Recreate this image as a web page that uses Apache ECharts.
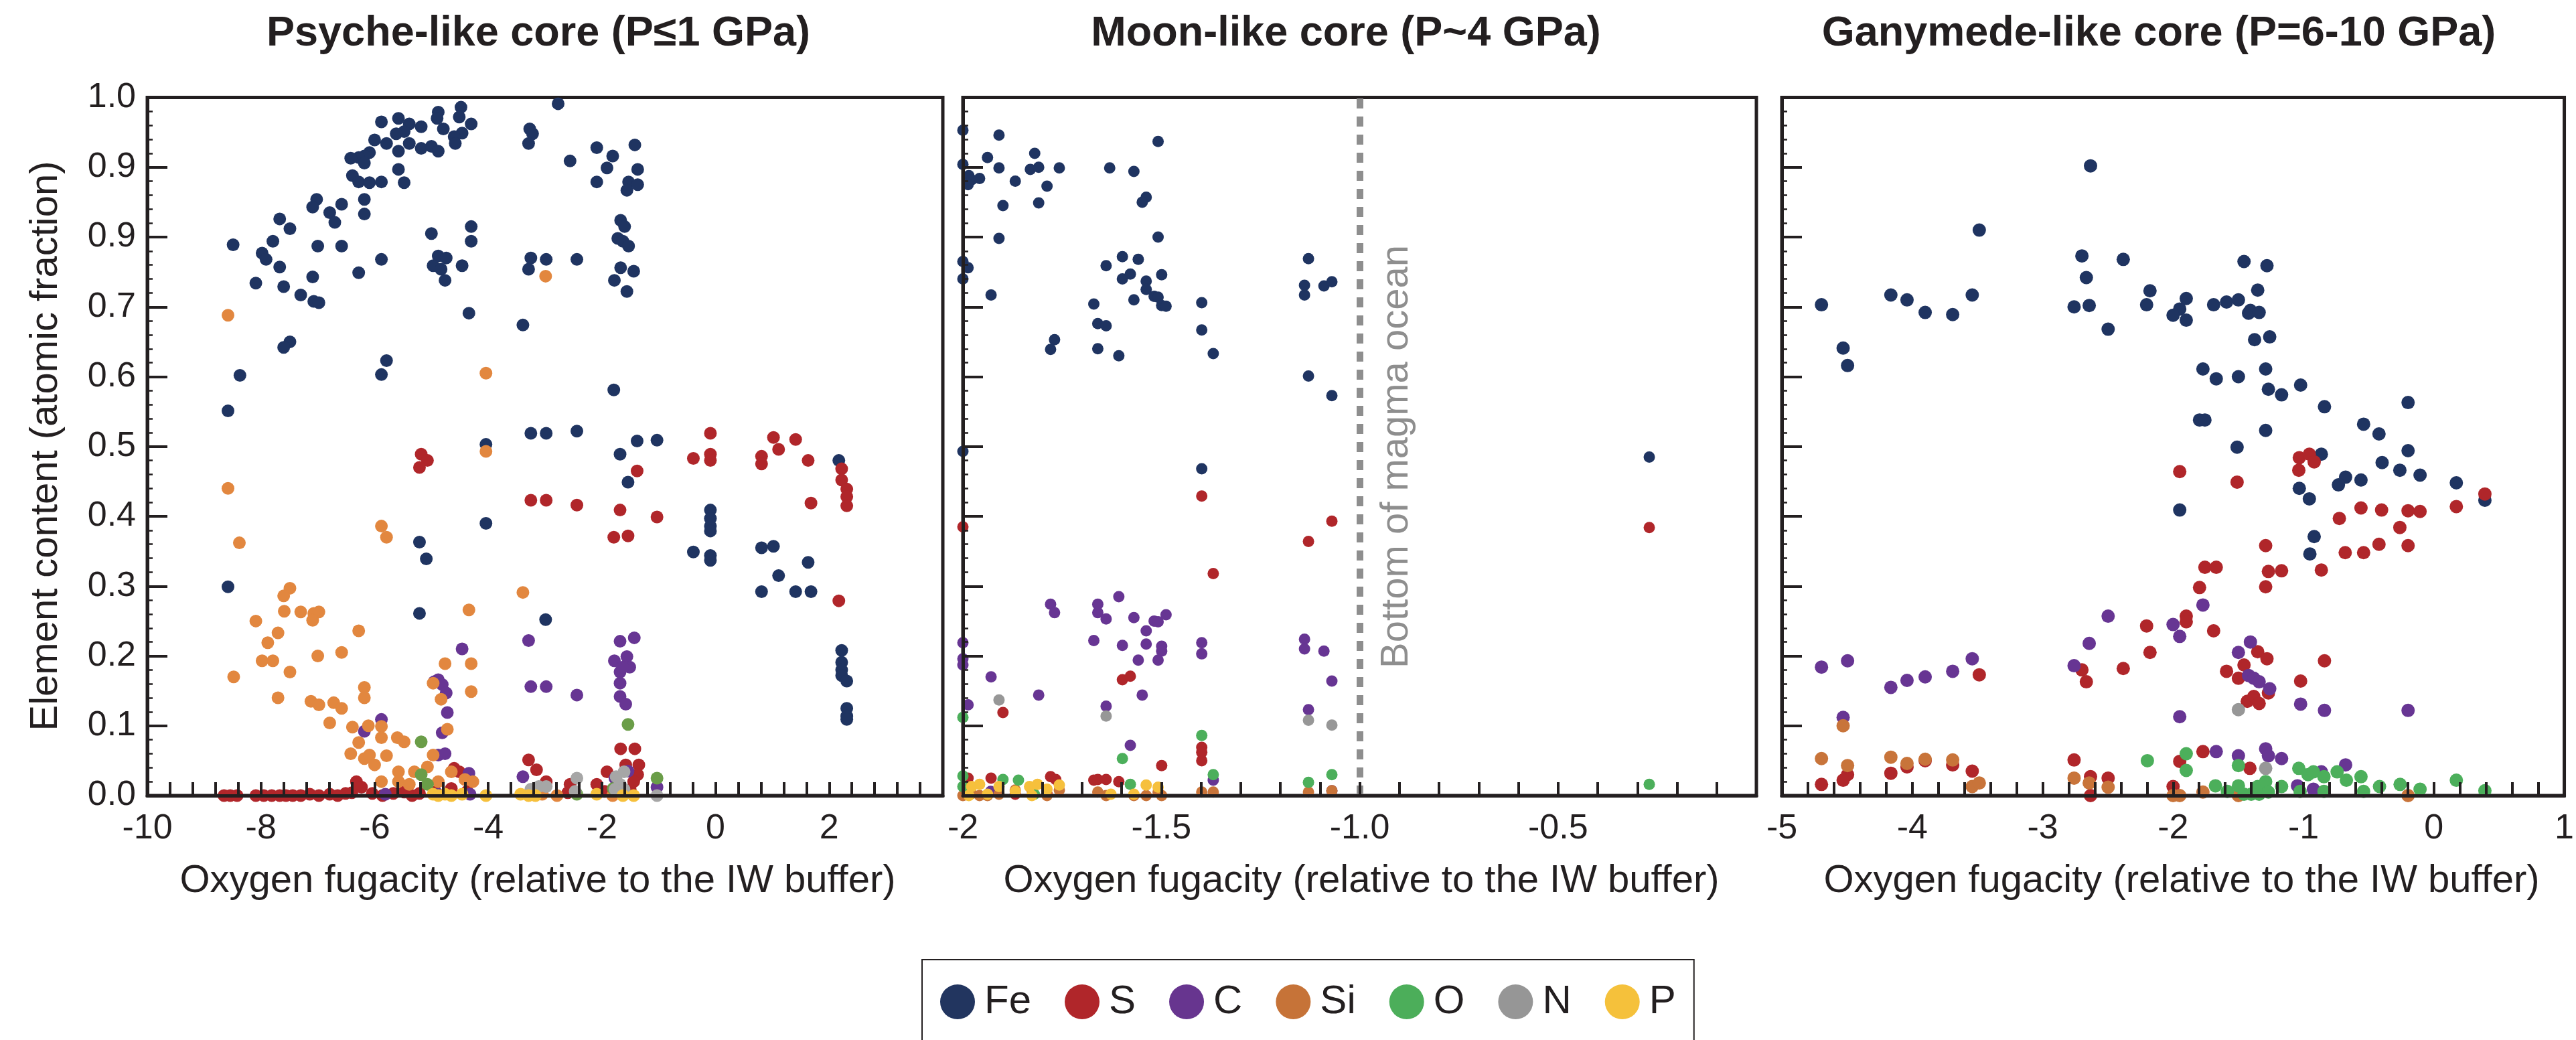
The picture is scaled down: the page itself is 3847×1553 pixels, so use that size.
<!DOCTYPE html>
<html>
<head>
<meta charset="utf-8">
<script src="https://cdn.jsdelivr.net/npm/echarts/dist/echarts.min.js"></script>
<style>
html,body{margin:0;padding:0;background:#fff;}
#chart{width:3847px;height:1553px;}
</style>
</head>
<body>
<div id="chart"></div>
<script>
// Core composition vs oxygen fugacity, three pressure regimes.
const elements = ['Fe', 'S', 'C', 'Si', 'O', 'N', 'P'];
const panelTitles = ['Psyche-like core (P\u22641 GPa)', 'Moon-like core (P~4 GPa)', 'Ganymede-like core (P=6-10 GPa)'];
const xTitle = 'Oxygen fugacity (relative to the IW buffer)';
const yTitle = 'Element content (atomic fraction)';
const yTickLabels = ['0.0', '0.1', '0.2', '0.3', '0.4', '0.5', '0.6', '0.7', '0.9', '0.9', '1.0'];
const psycheTicks = ['-10', '-8', '-6', '-4', '-2', '0', '2', ''];
const moonTicks = ['-2', '-1.5', '-1.0', '-0.5', ''];
const ganymedeTicks = ['-5', '-4', '-3', '-2', '-1', '0', '1'];
const magmaOceanBottom = -1.0;

// ---- Psyche-like core (P <= 1 GPa) ----
const psycheFe = [[-4.48,0.986],[-4.51,0.972],[-4.88,0.979],[-4.90,0.970],[-4.79,0.955],[-5.58,0.970],[-5.88,0.965],[-5.39,0.962],[-5.18,0.958],[-4.30,0.962],[-4.46,0.949],[-4.60,0.944],[-4.58,0.934],[-5.48,0.951],[-5.62,0.948],[-5.58,0.923],[-5.39,0.934],[-5.18,0.927],[-5.00,0.930],[-4.88,0.923],[-5.79,0.934],[-6.00,0.939],[-6.09,0.921],[-6.18,0.916],[-6.28,0.914],[-6.42,0.913],[-6.18,0.906],[-6.39,0.888],[-6.28,0.879],[-6.09,0.878],[-5.88,0.879],[-5.58,0.897],[-5.48,0.878],[-6.18,0.854],[-6.18,0.833],[-6.58,0.847],[-6.79,0.835],[-6.70,0.821],[-7.02,0.854],[-7.09,0.843],[-7.67,0.826],[-7.49,0.812],[-7.79,0.794],[-8.49,0.789],[-7.98,0.777],[-7.91,0.768],[-7.67,0.757],[-8.09,0.734],[-7.60,0.729],[-7.30,0.717],[-7.07,0.708],[-6.98,0.706],[-7.09,0.743],[-7.00,0.787],[-6.58,0.787],[-6.28,0.749],[-5.88,0.768],[-5.00,0.805],[-4.30,0.815],[-4.30,0.794],[-4.88,0.773],[-4.74,0.770],[-4.97,0.759],[-4.83,0.754],[-4.76,0.738],[-4.46,0.759],[-4.34,0.691],[-7.49,0.650],[-7.60,0.642],[-5.79,0.623],[-5.88,0.603],[-8.37,0.602],[-8.58,0.551],[-4.04,0.390],[-5.21,0.363],[-5.09,0.339],[-8.58,0.299],[-5.21,0.261],[-4.04,0.503],[-3.27,0.955],[-3.22,0.948],[-3.29,0.934],[-3.25,0.770],[-3.29,0.754],[-3.39,0.674],[-3.25,0.519],[-2.77,0.991],[-2.56,0.909],[-2.09,0.928],[-1.81,0.916],[-1.91,0.899],[-2.09,0.879],[-1.42,0.932],[-1.37,0.897],[-1.53,0.879],[-1.37,0.875],[-1.56,0.867],[-1.67,0.824],[-1.60,0.815],[-1.72,0.798],[-1.63,0.794],[-1.53,0.787],[-2.98,0.768],[-2.44,0.768],[-1.67,0.756],[-1.78,0.738],[-1.44,0.751],[-1.56,0.722],[-1.79,0.581],[-2.98,0.519],[-2.44,0.522],[-1.38,0.508],[-1.03,0.509],[-1.68,0.489],[-1.54,0.449],[-0.09,0.409],[-0.09,0.397],[-0.09,0.386],[-0.09,0.379],[-0.39,0.349],[-0.09,0.344],[-0.09,0.337],[0.81,0.355],[1.02,0.357],[1.11,0.315],[0.81,0.292],[1.41,0.292],[1.63,0.334],[1.68,0.292],[2.17,0.480],[2.22,0.208],[2.22,0.191],[2.22,0.180],[2.22,0.172],[2.31,0.164],[2.31,0.125],[2.31,0.114],[2.31,0.109],[-2.99,0.252]];
const psycheS = [[-5.18,0.489],[-5.07,0.480],[-5.21,0.470],[-3.25,0.423],[-2.98,0.423],[-2.44,0.416],[-1.68,0.409],[-1.79,0.370],[-1.54,0.372],[-1.38,0.465],[-1.03,0.399],[-0.09,0.519],[-0.39,0.483],[-0.09,0.489],[-0.09,0.480],[1.02,0.513],[1.11,0.496],[1.41,0.510],[0.81,0.486],[0.81,0.475],[1.63,0.480],[1.68,0.419],[2.22,0.468],[2.22,0.452],[2.31,0.439],[2.31,0.428],[2.31,0.415],[2.17,0.279],[-1.67,0.067],[-1.42,0.067],[-1.58,0.044],[-1.35,0.044],[-1.91,0.034],[-1.37,0.030],[-3.29,0.051],[-3.15,0.037],[-2.56,0.016],[-2.09,0.016],[-2.98,0.020],[-1.44,0.020],[-4.60,0.039],[-4.51,0.034],[-8.65,0],[-8.54,0],[-8.42,0],[-8.09,0],[-7.95,0],[-7.81,0],[-7.67,0],[-7.56,0],[-7.44,0],[-7.30,0],[-7.14,0.002],[-6.98,0],[-6.79,0.002],[-6.65,0],[-6.51,0.003],[-6.32,0.020],[-6.23,0.012],[-6.04,0.003],[-5.86,0],[-5.67,0.003],[-5.48,0.005],[-5.34,0],[-5.21,0.003],[-4.93,0.005],[-4.65,0.010],[-4.37,0.006],[-6.40,0.004],[-3.05,0.003],[-2.60,0.004],[-1.95,0.006],[-1.70,0.010],[-1.50,0.008]];
const psycheC = [[-4.46,0.210],[-3.29,0.222],[-3.25,0.156],[-5.88,0.109],[-6.18,0.092],[-4.88,0.166],[-4.95,0.163],[-4.81,0.159],[-4.74,0.147],[-4.72,0.119],[-4.81,0.090],[-4.88,0.058],[-4.76,0.060],[-4.34,0.032],[-3.39,0.027],[-5.81,0.002],[-4.88,0.002],[-4.32,0.002],[-2.98,0.156],[-2.44,0.144],[-1.68,0.221],[-1.43,0.226],[-1.56,0.199],[-1.78,0.193],[-1.51,0.184],[-1.68,0.177],[-1.63,0.184],[-1.68,0.161],[-1.68,0.142],[-1.58,0.131],[-1.54,0.035],[-1.03,0.012],[-1.77,0.025]];
const psycheSi = [[-8.58,0.688],[-8.58,0.440],[-8.38,0.362],[-5.88,0.386],[-5.79,0.370],[-4.04,0.605],[-4.04,0.493],[-3.39,0.291],[-4.34,0.266],[-7.49,0.297],[-7.60,0.286],[-7.59,0.264],[-7.30,0.263],[-7.07,0.261],[-6.98,0.263],[-7.09,0.251],[-8.09,0.250],[-7.70,0.233],[-6.28,0.236],[-7.88,0.219],[-7.98,0.193],[-7.79,0.193],[-7.49,0.177],[-8.48,0.170],[-7.00,0.200],[-6.58,0.205],[-7.70,0.140],[-7.12,0.135],[-6.98,0.130],[-6.72,0.133],[-6.58,0.125],[-6.79,0.104],[-6.18,0.155],[-6.18,0.140],[-4.76,0.189],[-4.30,0.189],[-4.30,0.149],[-4.97,0.161],[-4.83,0.138],[-6.39,0.098],[-6.11,0.100],[-5.88,0.099],[-5.88,0.083],[-5.79,0.057],[-5.60,0.083],[-5.48,0.077],[-4.72,0.095],[-6.42,0.060],[-6.18,0.053],[-6.09,0.058],[-6.00,0.044],[-6.28,0.076],[-5.58,0.034],[-5.30,0.034],[-4.97,0.058],[-5.07,0.041],[-5.88,0.020],[-5.58,0.020],[-5.39,0.016],[-4.88,0.020],[-4.65,0.034],[-4.41,0.023],[-4.27,0.020],[-2.99,0.744],[-2.79,0],[-1.81,0],[-3.05,0.002]];
const psycheO = [[-5.18,0.077],[-5.18,0.030],[-5.07,0.016],[-1.54,0.102],[-1.03,0.025],[-2.44,0.002],[-1.80,0.010]];
const psycheN = [[-3.25,0.009],[-3.11,0.013],[-2.44,0.025],[-2.98,0.013],[-1.75,0.027],[-1.61,0.034],[-1.68,0.016],[-1.77,0.009],[-1.61,0.009],[-1.03,0],[-2.47,0.006]];
const psycheP = [[-4.97,0.002],[-4.88,0],[-4.76,0.002],[-4.65,0],[-4.46,0.002],[-4.04,0],[-3.43,0.002],[-3.29,0],[-2.09,0.002],[-1.44,0],[-1.63,0],[-3.17,0]];

// ---- Moon-like core (P ~ 4 GPa) ----
const moonFe = [[-2.0,0.953],[-1.909,0.946],[-2.0,0.904],[-1.938,0.914],[-1.909,0.899],[-1.985,0.888],[-1.978,0.882],[-1.958,0.884],[-1.987,0.875],[-1.868,0.880],[-1.819,0.920],[-1.830,0.897],[-1.809,0.900],[-1.757,0.899],[-1.788,0.873],[-1.899,0.845],[-1.809,0.849],[-1.909,0.798],[-1.508,0.937],[-1.630,0.899],[-1.569,0.894],[-1.538,0.857],[-1.548,0.850],[-1.508,0.800],[-2.0,0.765],[-1.987,0.756],[-2.0,0.740],[-1.929,0.717],[-1.639,0.759],[-1.598,0.772],[-1.558,0.768],[-1.598,0.740],[-1.578,0.747],[-1.538,0.737],[-1.538,0.725],[-1.499,0.746],[-1.569,0.710],[-1.518,0.715],[-1.508,0.714],[-1.499,0.702],[-1.488,0.701],[-1.670,0.704],[-1.660,0.676],[-1.639,0.673],[-1.398,0.706],[-1.398,0.667],[-1.369,0.633],[-1.769,0.653],[-1.779,0.639],[-1.660,0.640],[-1.607,0.630],[-1.129,0.769],[-1.139,0.731],[-1.139,0.717],[-1.090,0.730],[-1.070,0.736],[-1.129,0.601],[-1.070,0.573],[-2.0,0.493],[-1.398,0.468],[-0.270,0.485]];
const moonS = [[-2.0,0.385],[-1.398,0.429],[-1.129,0.364],[-1.070,0.393],[-1.369,0.318],[-0.270,0.384],[-1.598,0.166],[-1.578,0.171],[-1.899,0.119],[-1.398,0.069],[-1.398,0.062],[-1.398,0.050],[-1.499,0.043],[-1.929,0.025],[-1.987,0.025],[-1.779,0.027],[-1.766,0.023],[-1.670,0.022],[-1.660,0.023],[-1.639,0.023],[-1.607,0.020],[-1.868,0.002],[-1.788,0.002]];
const moonC = [[-1.779,0.274],[-1.769,0.262],[-1.660,0.274],[-1.660,0.262],[-1.639,0.253],[-1.607,0.285],[-1.569,0.255],[-1.518,0.250],[-1.508,0.249],[-1.488,0.259],[-1.538,0.236],[-1.670,0.222],[-1.598,0.215],[-1.538,0.217],[-1.499,0.214],[-1.499,0.207],[-1.558,0.194],[-1.508,0.194],[-2.0,0.219],[-2.0,0.196],[-2.0,0.187],[-1.929,0.170],[-1.809,0.144],[-1.987,0.130],[-1.639,0.128],[-1.548,0.144],[-1.578,0.072],[-1.398,0.219],[-1.398,0.203],[-1.139,0.224],[-1.139,0.210],[-1.090,0.207],[-1.070,0.164],[-1.129,0.123],[-1.369,0.022],[-1.070,0.007],[-1.930,0.006]];
const moonSi = [[-2.0,0],[-1.978,0.003],[-1.958,0],[-1.938,0],[-1.909,0.002],[-1.868,0.008],[-1.826,0.008],[-1.788,0],[-1.757,0.008],[-1.660,0.005],[-1.639,0],[-1.569,0],[-1.538,0],[-1.508,0.005],[-1.499,0],[-1.398,0.005],[-1.369,0.005],[-1.129,0.005],[-1.070,0.007]];
const moonO = [[-2.0,0.112],[-1.398,0.086],[-1.598,0.053],[-1.369,0.030],[-1.070,0.030],[-1.129,0.019],[-0.270,0.016],[-2.0,0.028],[-1.899,0.023],[-1.578,0.016],[-2.0,0.013],[-1.820,0.002],[-1.860,0.022]];
const moonN = [[-1.909,0.137],[-1.639,0.114],[-1.129,0.108],[-1.070,0.101]];
const moonP = [[-1.985,0],[-1.978,0.013],[-1.958,0.016],[-1.938,0.002],[-1.909,0.013],[-1.868,0.006],[-1.832,0.013],[-1.812,0.016],[-1.826,0],[-1.788,0.009],[-1.757,0.015],[-1.627,0.002],[-1.569,0.002],[-1.538,0.015],[-1.508,0.012]];

// ---- Ganymede-like core (P = 6-10 GPa) ----
const ganymedeFe = [[-4.696,0.703],[-4.530,0.641],[-4.496,0.616],[-4.164,0.717],[-4.040,0.710],[-3.901,0.692],[-3.690,0.689],[-3.540,0.717],[-3.486,0.810],[-2.759,0.700],[-2.699,0.773],[-2.665,0.742],[-2.643,0.702],[-2.633,0.902],[-2.498,0.668],[-2.382,0.768],[-2.203,0.703],[-2.177,0.723],[-1.899,0.712],[-1.949,0.697],[-2.000,0.688],[-1.899,0.681],[-1.689,0.703],[-1.590,0.707],[-1.499,0.710],[-1.456,0.765],[-1.280,0.759],[-1.351,0.724],[-1.421,0.691],[-1.407,0.695],[-1.340,0.692],[-1.375,0.653],[-1.259,0.657],[-1.771,0.611],[-1.669,0.597],[-1.499,0.600],[-1.290,0.611],[-1.269,0.582],[-1.168,0.574],[-1.022,0.588],[-0.839,0.557],[-0.198,0.563],[-1.797,0.538],[-1.756,0.538],[-1.290,0.523],[-1.509,0.499],[-0.539,0.532],[-0.421,0.518],[-0.198,0.494],[-0.863,0.489],[-0.397,0.477],[-0.261,0.466],[-0.106,0.459],[-0.677,0.456],[-0.732,0.445],[-0.559,0.452],[0.172,0.448],[0.391,0.423],[-1.032,0.440],[-0.955,0.425],[-1.949,0.409],[-0.918,0.371],[-0.951,0.346]];
const ganymedeS = [[-1.032,0.484],[-0.955,0.489],[-0.918,0.478],[-1.036,0.466],[-1.949,0.464],[-1.509,0.449],[0.391,0.432],[-0.725,0.397],[-0.559,0.412],[-0.401,0.409],[-0.198,0.408],[-0.106,0.407],[0.172,0.414],[-0.261,0.384],[-0.421,0.360],[-0.198,0.358],[-0.680,0.348],[-0.539,0.348],[-1.290,0.358],[-1.269,0.321],[-1.168,0.322],[-1.290,0.299],[-0.863,0.323],[-1.756,0.327],[-1.669,0.327],[-1.797,0.298],[-1.899,0.257],[-1.899,0.249],[-1.689,0.236],[-2.203,0.243],[-2.177,0.205],[-1.351,0.206],[-1.280,0.196],[-1.456,0.187],[-1.590,0.178],[-1.499,0.168],[-1.431,0.135],[-1.381,0.142],[-1.340,0.132],[-1.269,0.147],[-1.022,0.164],[-0.839,0.193],[-1.949,0.049],[-1.771,0.063],[-1.411,0.039],[-2.000,0.013],[-2.382,0.182],[-2.699,0.180],[-2.665,0.163],[-3.486,0.173],[-2.759,0.051],[-2.633,0.027],[-2.498,0.025],[-2.633,0],[-3.540,0.035],[-3.690,0.044],[-4.040,0.041],[-4.164,0.032],[-4.496,0.030],[-4.530,0.022],[-4.696,0.016],[-3.901,0.050]];
const ganymedeC = [[-4.696,0.184],[-4.496,0.193],[-4.164,0.155],[-4.040,0.165],[-3.901,0.170],[-3.690,0.178],[-3.540,0.196],[-2.759,0.186],[-2.643,0.218],[-2.498,0.257],[-4.530,0.112],[-1.771,0.273],[-2.000,0.245],[-1.949,0.228],[-1.407,0.220],[-1.499,0.205],[-1.421,0.172],[-1.381,0.168],[-1.340,0.163],[-1.259,0.153],[-1.022,0.131],[-0.839,0.122],[-0.198,0.122],[-1.949,0.113],[-1.669,0.063],[-1.499,0.057],[-1.290,0.067],[-1.269,0.057],[-1.168,0.053],[-0.677,0.044],[-0.863,0.034],[-1.046,0.014],[-0.924,0.009]];
const ganymedeSi = [[-4.696,0.053],[-4.530,0.100],[-4.496,0.043],[-4.164,0.055],[-4.040,0.046],[-3.901,0.052],[-3.690,0.051],[-3.540,0.013],[-3.486,0.018],[-2.759,0.025],[-2.643,0.018],[-2.498,0.012],[-2.0,0],[-1.949,0],[-1.771,0.005],[-1.499,0],[-0.198,0]];
const ganymedeO = [[-2.197,0.050],[-1.899,0.060],[-1.899,0.036],[-1.499,0.043],[-1.675,0.014],[-1.584,0.006],[-1.499,0.014],[-1.456,0.002],[-1.351,0.013],[-1.340,0.002],[-1.290,0.020],[-1.269,0.005],[-1.168,0.013],[-1.036,0.039],[-0.965,0.030],[-0.924,0.034],[-0.843,0.027],[-0.742,0.034],[-0.671,0.022],[-0.559,0.027],[-0.539,0.006],[-0.417,0.013],[-0.259,0.016],[-0.106,0.009],[0.172,0.022],[0.391,0.007],[-1.026,0.006],[-0.843,0.006],[-1.401,0.002]];
const ganymedeN = [[-1.499,0.123],[-1.290,0.039]];
const ganymedeP = [];

// colours per element (legend swatches) and per-panel dot colours
const legendColors = {Fe:'#22355f', S:'#b0262a', C:'#67358f', Si:'#c67338', O:'#4cae5a', N:'#969696', P:'#f5c13b'};
const panelColors = [
  {Fe:'#1f3461', S:'#b0262a', C:'#673593', Si:'#e2873f', O:'#6a9d48', N:'#a6a6a6', P:'#f6c03c'},
  {Fe:'#1f3461', S:'#b0262a', C:'#673593', Si:'#c8743a', O:'#4caf5b', N:'#979797', P:'#f6c03c'},
  {Fe:'#1f3461', S:'#b0262a', C:'#673593', Si:'#c8743a', O:'#4caf5b', N:'#979797', P:'#f6c03c'}
];

const panelData = [
  {Fe:psycheFe, S:psycheS, C:psycheC, Si:psycheSi, O:psycheO, N:psycheN, P:psycheP},
  {Fe:moonFe, S:moonS, C:moonC, Si:moonSi, O:moonO, N:moonN, P:moonP},
  {Fe:ganymedeFe, S:ganymedeS, C:ganymedeC, Si:ganymedeSi, O:ganymedeO, N:ganymedeN, P:ganymedeP}
];

const INK = '#231f20';
const FONT = "'Liberation Sans', Arial, sans-serif";

const grids = [
  {left:220, top:145.5, width:1188, height:1042.5},
  {left:1438, top:145.5, width:1185, height:1042.5},
  {left:2661, top:145.5, width:1182, height:1042.5}
];
const xRanges = [
  {min:-10, max:4, interval:2, ticks:psycheTicks},
  {min:-2, max:0, interval:0.5, ticks:moonTicks},
  {min:-5, max:1, interval:1, ticks:ganymedeTicks}
];
const symbolSizes = [19, 17, 20];

const xAxes = xRanges.map((r, i) => ({
  type:'value', gridIndex:i, min:r.min, max:r.max, interval:r.interval, z:5,
  axisLine:{show:true, onZero:false, lineStyle:{color:INK, width:5}},
  axisTick:{show:true, inside:true, length:20, lineStyle:{color:INK, width:4}},
  minorTick:{show:true, splitNumber:5, length:20, lineStyle:{color:INK, width:4}},
  splitLine:{show:false}, minorSplitLine:{show:false},
  axisLabel:{show:true, margin:24, fontSize:52, fontFamily:FONT, color:INK,
    showMinLabel:true, showMaxLabel:true, hideOverlap:false,
    formatter:(v) => { const k = Math.round((v - r.min) / r.interval); return r.ticks[k] || ''; }}
}));

const yAxes = grids.map((g, i) => ({
  type:'value', gridIndex:i, min:0, max:1, interval:0.1, z:5,
  axisLine:{show:true, onZero:false, lineStyle:{color:INK, width:5}},
  axisTick:{show:true, inside:true, length:30, lineStyle:{color:INK, width:4}},
  minorTick:{show:true, splitNumber:5, length:8, lineStyle:{color:INK, width:2.5}},
  splitLine:{show:false}, minorSplitLine:{show:false},
  axisLabel:{show:i === 0, margin:17, fontSize:52, fontFamily:FONT, color:INK,
    showMinLabel:true, showMaxLabel:true,
    formatter:(v) => yTickLabels[Math.round(v * 10)]}
}));

const series = [];
panelData.forEach((panel, i) => {
  elements.forEach((el) => {
    const s = {
      type:'scatter', name:el, xAxisIndex:i, yAxisIndex:i,
      data:panel[el], symbol:'circle', symbolSize:symbolSizes[i],
      clip:false, silent:true, animation:false,
      itemStyle:{color:panelColors[i][el], opacity:1}
    };
    if (i === 1 && el === 'Fe') {
      s.markLine = {
        silent:true, symbol:['none', 'none'], animation:false,
        label:{show:false},
        lineStyle:{color:'#8e8e8e', width:10, type:[15, 12]},
        data:[{xAxis:magmaOceanBottom}]
      };
    }
    series.push(s);
  });
});

const titleCenters = [804, 2010, 3224];
const xTitleCenters = [803, 2033, 3258];

const graphics = [];
panelTitles.forEach((t, i) => graphics.push({
  type:'text', x:titleCenters[i], y:51, silent:true,
  style:{text:t, fill:INK, font:"bold 63px " + FONT, textAlign:'center', textVerticalAlign:'middle'}
}));
xTitleCenters.forEach((cx) => graphics.push({
  type:'text', x:cx, y:1316, silent:true,
  style:{text:xTitle, fill:INK, font:"58px " + FONT, textAlign:'center', textVerticalAlign:'middle'}
}));
graphics.push({
  type:'text', x:69, y:666, rotation:Math.PI / 2, silent:true,
  style:{text:yTitle, fill:INK, font:"58px " + FONT, textAlign:'center', textVerticalAlign:'middle'}
});
graphics.push({
  type:'text', x:2086, y:682, rotation:Math.PI / 2, silent:true,
  style:{text:'Bottom of magma ocean', fill:'#8e8e8e', font:"58px " + FONT, textAlign:'center', textVerticalAlign:'middle'}
});

const chart = echarts.init(document.getElementById('chart'), null, {renderer:'canvas'});
chart.setOption({
  backgroundColor:'#ffffff',
  animation:false,
  grid:grids.map(g => Object.assign({show:true, borderColor:INK, borderWidth:5, backgroundColor:'transparent', containLabel:false}, g)),
  xAxis:xAxes,
  yAxis:yAxes,
  legend:{
    show:true, left:1377, top:1433, orient:'horizontal',
    padding:[33, 27, 33, 27], itemWidth:52, itemHeight:52, itemGap:50,
    icon:'circle', borderColor:INK, borderWidth:2, selectedMode:false,
    textStyle:{fontFamily:FONT, fontSize:60, color:INK, width:70, padding:[0, 0, 0, 9]},
    data:elements.map(el => ({name:el, itemStyle:{color:legendColors[el]}}))
  },
  graphic:graphics,
  series:series
});
</script>
</body>
</html>
